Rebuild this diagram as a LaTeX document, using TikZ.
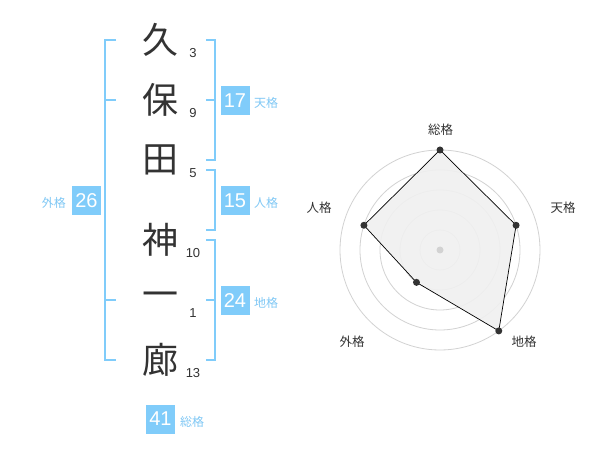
\documentclass[tikz,border=0pt]{standalone}
\usepackage{fontspec}
\usetikzlibrary{calc}
\setmainfont{Liberation Sans}
\newfontfamily\jp{Noto Sans CJK JP}
\definecolor{kblue}{RGB}{128,204,250}
\definecolor{klabel}{RGB}{128,200,245}
\definecolor{ink}{RGB}{51,51,51}
\definecolor{ring}{RGB}{210,210,210}
\definecolor{area}{RGB}{240,240,240}
\tikzset{
  namechar/.style={inner sep=0pt, text=ink, font=\jp\fontsize{36}{36}\selectfont},
  strokenum/.style={inner sep=0pt, text=ink, font=\fontsize{13}{13}\selectfont},
  valbox/.style={fill=kblue, text=white, minimum width=29pt, minimum height=29pt, inner sep=0pt, font=\fontsize{20}{20}\selectfont},
  vallabel/.style={inner sep=0pt, text=klabel, font=\jp\fontsize{12}{12}\selectfont},
  bracket/.style={draw=kblue, line width=2pt},
  axislabel/.style={inner sep=0pt, text=ink, font=\jp\fontsize{12.5}{12.5}\selectfont},
  ringline/.style={draw=ring, line width=0.8pt},
  dot/.style={circle, fill=ink, inner sep=0pt, minimum size=7pt},
}
\begin{document}
\begin{tikzpicture}[x=1pt,y=-1pt]
\useasboundingbox[fill=white] (0,0) rectangle (600,470);
% name characters
\node[namechar] (c1) at (160,40) {久};
\node[namechar] (c2) at (160,100) {保};
\node[namechar] (c3) at (160,160) {田};
\node[namechar] (c4) at (160,240) {神};
\node[namechar] (c5) at (160,300) {一};
\node[namechar] (c6) at (160,360) {廊};
% stroke numbers
\node[strokenum] (n1) at (193,53) {3};
\node[strokenum] (n2) at (193,113) {9};
\node[strokenum] (n3) at (193,173) {5};
\node[strokenum] (n4) at (193,253) {10};
\node[strokenum] (n5) at (193,313) {1};
\node[strokenum] (n6) at (193,373) {13};
% brackets
\draw[bracket] (116,40) -- (105,40) -- (105,360) -- (116,360);
\draw[bracket] (105,100) -- (116,100);
\draw[bracket] (105,300) -- (116,300);
\draw[bracket] (206,40) -- (215,40) -- (215,160) -- (206,160);
\draw[bracket] (206,100) -- (215,100);
\draw[bracket] (206,170) -- (215,170) -- (215,230) -- (206,230);
\draw[bracket] (206,240) -- (215,240) -- (215,360) -- (206,360);
\draw[bracket] (206,300) -- (215,300);
% value boxes
\node[valbox] (ten) at (235,100.5) {17};
\node[vallabel, anchor=west] (tenl) at (254,103) {天格};
\node[valbox] (jin) at (235,200.5) {15};
\node[vallabel, anchor=west] (jinl) at (254,203) {人格};
\node[valbox] (chi) at (235,300.5) {24};
\node[vallabel, anchor=west] (chil) at (254,303) {地格};
\node[valbox] (gai) at (86.5,200.5) {26};
\node[vallabel, anchor=east] (gail) at (66,203) {外格};
\node[valbox] (sou) at (160.5,419) {41};
\node[vallabel, anchor=west] (soul) at (180,422) {総格};
% radar
\coordinate (ctr) at (440,250);
\foreach \r in {20,40,60,80,100} \draw[ringline] (ctr) circle[radius=\r];
\coordinate (pS) at ($(ctr)+(-90:100)$);
\coordinate (pT) at ($(ctr)+(-18:80)$);
\coordinate (pC) at ($(ctr)+(54:100)$);
\coordinate (pG) at ($(ctr)+(126:40)$);
\coordinate (pJ) at ($(ctr)+(198:80)$);
\fill[area, opacity=0.9] (pS) -- (pT) -- (pC) -- (pG) -- (pJ) -- cycle;
\draw[black, line width=0.7pt] (pS) -- (pT) -- (pC) -- (pG) -- (pJ) -- cycle;
\node[circle, fill=ring, inner sep=0pt, minimum size=7pt] (cdot) at (ctr) {};
\node[dot] (dS) at (pS) {};
\node[dot] (dT) at (pT) {};
\node[dot] (dC) at (pC) {};
\node[dot] (dG) at (pG) {};
\node[dot] (dJ) at (pJ) {};
\node[axislabel] (lS) at (440.5,130) {総格};
\node[axislabel] (lT) at (563,208) {天格};
\node[axislabel] (lC) at (524,342) {地格};
\node[axislabel] (lG) at (352,342) {外格};
\node[axislabel] (lJ) at (319,208) {人格};
\end{tikzpicture}
\end{document}
